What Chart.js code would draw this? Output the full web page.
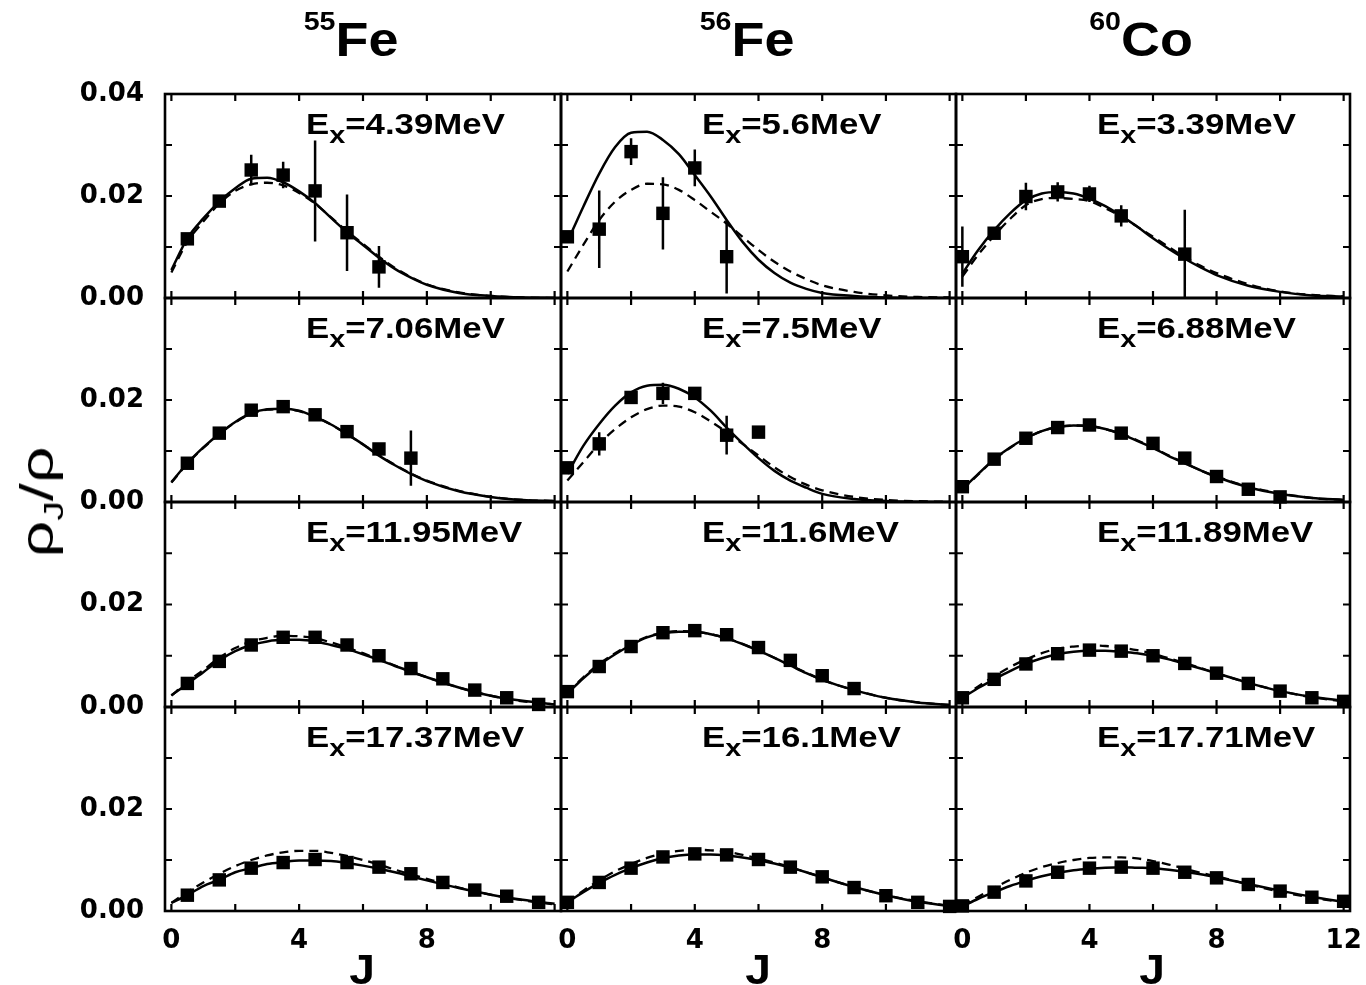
<!DOCTYPE html>
<html>
<head>
<meta charset="utf-8">
<script src="https://cdn.jsdelivr.net/npm/chart.js@4.4.1/dist/chart.umd.min.js"></script>
<style>
  body { margin: 0; background: #fff; width: 1366px; height: 985px; position: relative; overflow: hidden; font-family: "Liberation Sans", Arial, sans-serif; }
  canvas { position: absolute; left: 0; top: 0; }
  .title { position: absolute; top: 15px; font: bold 49px/1 "Liberation Sans", Arial, sans-serif; transform: translateX(-50%) scaleX(1.1); white-space: nowrap; z-index: 5; }
  .title .sup { font-size: 26px; position: relative; top: -26px; }
  .ex { position: absolute; font: bold 29px/1 "Liberation Sans", Arial, sans-serif; white-space: nowrap; transform-origin: 0 0; transform: scaleX(1.2); z-index: 5; }
  .ex .sub { font-size: 24px; position: relative; top: 9px; }
  .jlab { position: absolute; top: 949px; font: bold 42px/1 "Liberation Sans", Arial, sans-serif; transform: translateX(-50%) scaleX(1.1); z-index: 5; }
  .ylab { position: absolute; left: 37px; top: 502px; font: 46px/1 "Liberation Sans", Arial, sans-serif; transform: translate(-50%, -50%) rotate(-90deg) scaleX(1.4); white-space: nowrap; z-index: 5; }
  .ylab .sub { font-size: 28px; position: relative; top: 10px; }
</style>
</head>
<body>
<script>
// column headers and panel energies (row-major: 55Fe, 56Fe, 60Co)
const massNumbers = ['55', '56', '60'];
const elements = ['Fe', 'Fe', 'Co'];
const excitation = ['4.39', '5.6', '3.39', '7.06', '7.5', '6.88', '11.95', '11.6', '11.89', '17.37', '16.1', '17.71'];

// all values below are in units of 1e-3
const curveJ = [0, 0.5, 1, 1.5, 2, 2.5, 3, 3.5, 4, 4.5, 5, 5.5, 6, 6.5, 7, 7.5, 8, 9, 10, 11, 12];

const solidY = [
  [5.5, 11.7, 15.6, 18.9, 21.5, 23.4, 23.6, 22.7, 20.9, 18.6, 15.7, 12.9, 10.4, 7.9, 5.7, 4.0, 2.6, 1.0, 0.4, 0.1, 0.0],
  [11.0, 17.9, 24.4, 29.6, 32.4, 32.6, 31.0, 28.2, 24.1, 19.9, 15.3, 11.0, 7.5, 4.9, 3.0, 1.8, 1.0, 0.4, 0.1, 0.0, 0.0],
  [4.8, 9.4, 13.3, 16.6, 19.2, 20.5, 20.8, 20.5, 19.5, 18.0, 16.1, 14.0, 11.7, 9.6, 7.7, 6.0, 4.5, 2.4, 1.2, 0.5, 0.3],
  [3.9, 7.6, 10.7, 13.4, 15.7, 17.4, 18.2, 18.3, 17.9, 16.7, 15.2, 13.3, 11.3, 9.1, 7.2, 5.5, 4.1, 2.1, 1.0, 0.4, 0.2],
  [5.5, 11.0, 15.3, 18.9, 21.5, 22.8, 23.0, 22.2, 20.5, 17.9, 14.6, 11.5, 8.6, 6.1, 4.2, 2.8, 1.6, 0.6, 0.2, 0.05, 0.0],
  [2.5, 5.5, 8.4, 10.7, 12.5, 13.9, 14.7, 15.0, 14.9, 14.3, 13.3, 12.0, 10.6, 9.0, 7.6, 6.2, 4.9, 2.9, 1.6, 0.8, 0.4],
  [2.3, 4.5, 6.8, 9.1, 10.9, 12.1, 12.8, 13.1, 13.1, 12.8, 12.1, 11.3, 10.3, 9.2, 8.0, 6.9, 5.8, 3.8, 2.2, 1.2, 0.5],
  [2.6, 5.6, 8.2, 10.3, 12.1, 13.6, 14.4, 14.7, 14.7, 14.2, 13.4, 12.3, 11.0, 9.6, 8.1, 6.6, 5.3, 3.3, 1.8, 0.9, 0.4],
  [1.8, 3.7, 5.4, 7.0, 8.4, 9.5, 10.3, 10.8, 11.0, 11.0, 10.8, 10.5, 10.0, 9.3, 8.4, 7.5, 6.6, 4.7, 3.1, 2.0, 1.2],
  [1.6, 3.1, 4.9, 6.1, 7.6, 8.4, 9.2, 9.6, 9.9, 9.9, 9.8, 9.4, 8.9, 8.3, 7.6, 6.8, 6.0, 4.5, 3.2, 2.2, 1.4],
  [1.7, 3.7, 5.5, 7.1, 8.4, 9.5, 10.4, 10.9, 11.1, 11.1, 10.9, 10.5, 10.0, 9.3, 8.5, 7.6, 6.6, 4.7, 3.1, 1.8, 1.0],
  [0.9, 2.4, 3.7, 4.9, 5.9, 6.8, 7.5, 8.0, 8.3, 8.5, 8.6, 8.5, 8.4, 8.1, 7.7, 7.2, 6.6, 5.3, 4.0, 2.8, 1.8]
];

const dashedY = [
  [5.0, 11.0, 15.0, 18.5, 21.0, 22.3, 22.6, 22.1, 20.6, 18.5, 15.8, 13.1, 10.6, 8.1, 5.9, 4.1, 2.7, 1.1, 0.4, 0.1, 0.0],
  [5.2, 10.4, 15.3, 18.9, 21.2, 22.4, 22.3, 21.2, 19.2, 16.9, 14.6, 12.0, 9.4, 7.1, 5.2, 3.7, 2.5, 1.2, 0.5, 0.2, 0.1],
  [4.2, 8.5, 12.2, 15.5, 18.2, 19.4, 19.6, 19.4, 19.0, 17.6, 16.0, 14.0, 12.0, 10.0, 8.0, 6.3, 4.9, 2.7, 1.3, 0.6, 0.3],
  [3.8, 7.5, 10.6, 13.3, 15.6, 17.3, 18.1, 18.2, 17.8, 16.7, 15.2, 13.3, 11.3, 9.2, 7.3, 5.6, 4.2, 2.2, 1.0, 0.4, 0.2],
  [4.2, 7.8, 11.4, 14.3, 16.6, 18.2, 18.9, 18.7, 17.6, 15.8, 13.7, 11.4, 9.1, 6.8, 4.9, 3.4, 2.3, 1.0, 0.4, 0.15, 0.05],
  [2.4, 5.4, 8.3, 10.6, 12.5, 13.9, 14.7, 15.0, 14.9, 14.3, 13.4, 12.1, 10.7, 9.1, 7.6, 6.2, 5.0, 3.0, 1.7, 0.8, 0.4],
  [2.2, 4.9, 7.2, 9.6, 11.5, 12.8, 13.5, 13.9, 13.8, 13.4, 12.6, 11.6, 10.5, 9.3, 8.1, 6.9, 5.8, 3.8, 2.2, 1.1, 0.5],
  [2.7, 5.8, 8.4, 10.5, 12.3, 13.7, 14.5, 14.8, 14.7, 14.2, 13.4, 12.3, 11.0, 9.6, 8.1, 6.7, 5.3, 3.3, 1.8, 0.9, 0.4],
  [1.9, 4.0, 6.0, 7.8, 9.3, 10.5, 11.4, 11.8, 12.0, 11.9, 11.6, 11.1, 10.4, 9.5, 8.6, 7.6, 6.6, 4.7, 3.1, 1.9, 1.1],
  [1.6, 3.7, 5.6, 7.3, 8.8, 10.0, 10.9, 11.5, 11.8, 11.8, 11.4, 10.8, 10.0, 9.1, 8.1, 7.2, 6.3, 4.6, 3.2, 2.1, 1.3],
  [1.8, 4.0, 6.0, 7.8, 9.2, 10.4, 11.3, 11.8, 12.0, 11.9, 11.6, 11.0, 10.3, 9.5, 8.6, 7.6, 6.6, 4.7, 3.1, 1.9, 1.0],
  [1.0, 2.8, 4.5, 6.1, 7.5, 8.6, 9.4, 10.0, 10.4, 10.5, 10.5, 10.3, 9.8, 9.1, 8.3, 7.5, 6.8, 5.2, 3.8, 2.6, 1.7]
];

const expJ = [
  [0.5, 1.5, 2.5, 3.5, 4.5, 5.5, 6.5],
  [0, 1, 2, 3, 4, 5],
  [0, 1, 2, 3, 4, 5, 7],
  [0.5, 1.5, 2.5, 3.5, 4.5, 5.5, 6.5, 7.5],
  [0, 1, 2, 3, 4, 5, 6],
  [0, 1, 2, 3, 4, 5, 6, 7, 8, 9, 10],
  [0.5, 1.5, 2.5, 3.5, 4.5, 5.5, 6.5, 7.5, 8.5, 9.5, 10.5, 11.5],
  [0, 1, 2, 3, 4, 5, 6, 7, 8, 9],
  [0, 1, 2, 3, 4, 5, 6, 7, 8, 9, 10, 11, 12],
  [0.5, 1.5, 2.5, 3.5, 4.5, 5.5, 6.5, 7.5, 8.5, 9.5, 10.5, 11.5],
  [0, 1, 2, 3, 4, 5, 6, 7, 8, 9, 10, 11, 12],
  [0, 1, 2, 3, 4, 5, 6, 7, 8, 9, 10, 11, 12]
];

const expY = [
  [11.6, 19.0, 25.1, 24.1, 21.0, 12.8, 6.1],
  [12.0, 13.5, 28.7, 16.6, 25.5, 8.1],
  [8.1, 12.7, 19.9, 20.8, 20.4, 16.1, 8.6],
  [7.6, 13.5, 18.0, 18.7, 17.1, 13.8, 10.4, 8.6],
  [6.7, 11.4, 20.5, 21.3, 21.3, 13.1, 13.7],
  [3.0, 8.4, 12.5, 14.6, 15.1, 13.5, 11.5, 8.6, 5.0, 2.5, 1.0],
  [4.6, 8.9, 12.1, 13.6, 13.6, 12.1, 10.0, 7.5, 5.5, 3.3, 1.8, 0.5],
  [3.0, 7.9, 11.8, 14.5, 14.9, 14.1, 11.6, 9.1, 6.1, 3.6],
  [1.8, 5.4, 8.4, 10.4, 11.1, 10.9, 10.0, 8.5, 6.6, 4.6, 3.1, 1.8, 1.1],
  [3.1, 6.1, 8.4, 9.5, 10.1, 9.5, 8.6, 7.3, 5.6, 4.1, 2.9, 1.7],
  [1.7, 5.6, 8.4, 10.6, 11.2, 11.0, 10.1, 8.6, 6.7, 4.6, 3.0, 1.7, 0.9],
  [1.0, 3.7, 5.9, 7.6, 8.4, 8.6, 8.4, 7.6, 6.5, 5.2, 3.9, 2.7, 1.9]
];

const expErr = [
  [0.8, 0.8, 3.0, 2.6, 9.9, 7.5, 4.1],
  [0.8, 7.6, 2.6, 7.1, 3.6, 7.2],
  [5.9, 1.0, 2.7, 1.9, 1.6, 2.1, 8.7],
  [0.3, 0.4, 0.4, 0.6, 0.4, 0.4, 0.7, 5.4],
  [0.6, 2.3, 0.6, 2.1, 1.0, 3.8, 0.8],
  [0.3, 0.3, 0.3, 0.3, 0.3, 0.3, 0.3, 0.3, 0.7, 1.0, 0.3],
  [0.2, 0.2, 0.2, 0.2, 0.2, 0.2, 0.2, 0.2, 0.2, 0.2, 0.2, 0.2],
  [0.2, 0.2, 0.2, 0.2, 0.2, 0.2, 0.2, 0.2, 0.2, 0.2],
  [0.2, 0.2, 0.2, 0.2, 0.2, 0.2, 0.2, 0.2, 0.2, 0.2, 0.2, 0.2, 0.2],
  [0.2, 0.2, 0.2, 0.2, 0.2, 0.2, 0.2, 0.2, 0.2, 0.2, 0.2, 0.2],
  [0.2, 0.2, 0.2, 0.2, 0.2, 0.2, 0.2, 0.2, 0.2, 0.2, 0.2, 0.2, 0.2],
  [0.2, 0.2, 0.2, 0.2, 0.2, 0.2, 0.2, 0.2, 0.2, 0.2, 0.2, 0.2, 0.2]
];

// axis ticks
const xMajor = [0, 2, 4, 6, 8, 10, 12];
const yMajor = [0, 0.01, 0.02, 0.03, 0.04];
const xLabelsShort = [0, 4, 8];
const xLabelsLast = [0, 4, 8, 12];
const yLabelsTop = [0, 0.02, 0.04];
const yLabelsRest = [0, 0.02];

// page geometry of the 3x4 grid of panels
const colEdges = [165, 561, 956, 1350];
const rowEdges = [94, 298, 502, 707, 911];
const W = 1366, H = 985;
const yAxisWidth = 120, xAxisHeight = 60;
const tickFont = { family: '"DejaVu Sans", "Liberation Sans", sans-serif', size: 26, weight: 'bold' };

const perMille = v => v / 1000;

// frame and inward tick marks on all four sides
const frame = {
  id: 'frame',
  afterDraw(chart) {
    const { ctx, chartArea: a, scales: { x, y } } = chart;
    ctx.save();
    ctx.strokeStyle = '#000';
    ctx.lineWidth = 2.6;
    ctx.strokeRect(a.left, a.top, a.right - a.left, a.bottom - a.top);
    ctx.lineWidth = 2.2;
    ctx.beginPath();
    xMajor.forEach(v => {
      const px = x.getPixelForValue(v);
      ctx.moveTo(px, a.bottom); ctx.lineTo(px, a.bottom - 7);
      ctx.moveTo(px, a.top); ctx.lineTo(px, a.top + 7);
    });
    yMajor.forEach(v => {
      const py = y.getPixelForValue(v);
      ctx.moveTo(a.left, py); ctx.lineTo(a.left + 7, py);
      ctx.moveTo(a.right, py); ctx.lineTo(a.right - 7, py);
    });
    ctx.stroke();
    ctx.restore();
  }
};

const errorBars = {
  id: 'errorBars',
  afterDatasetsDraw(chart) {
    const { ctx, scales: { x, y } } = chart;
    const ds = chart.data.datasets[2];
    ctx.save();
    ctx.strokeStyle = '#000';
    ctx.lineWidth = 2.5;
    ctx.beginPath();
    ds.data.forEach(p => {
      const px = x.getPixelForValue(p.x);
      ctx.moveTo(px, y.getPixelForValue(Math.max(0, p.y - p.err)));
      ctx.lineTo(px, y.getPixelForValue(p.y + p.err));
    });
    ctx.stroke();
    ctx.restore();
  }
};

function addText(cls, html, left, top) {
  const d = document.createElement('div');
  d.className = cls;
  d.innerHTML = html;
  d.style.left = left + 'px';
  if (top !== undefined) d.style.top = top + 'px';
  document.body.appendChild(d);
}

for (let r = 0; r < 4; r++) {
  for (let c = 0; c < 3; c++) {
    const k = r * 3 + c;
    const isLeft = c === 0, isBottom = r === 3;
    const canvas = document.createElement('canvas');
    canvas.width = W; canvas.height = H;
    document.body.appendChild(canvas);

    new Chart(canvas, {
      type: 'scatter',
      data: {
        datasets: [
          {
            type: 'line',
            data: curveJ.map((j, i) => ({ x: j, y: perMille(solidY[k][i]) })),
            borderColor: '#000', borderWidth: 2.5, pointRadius: 0,
            cubicInterpolationMode: 'monotone', fill: false
          },
          {
            type: 'line',
            data: curveJ.map((j, i) => ({ x: j, y: perMille(dashedY[k][i]) })),
            borderColor: '#000', borderWidth: 2.3, borderDash: [9, 6], pointRadius: 0,
            cubicInterpolationMode: 'monotone', fill: false
          },
          {
            data: expJ[k].map((j, i) => ({ x: j, y: perMille(expY[k][i]), err: perMille(expErr[k][i]) })),
            pointStyle: 'rect', pointRadius: 9.5, pointHoverRadius: 9.5,
            backgroundColor: '#000', borderColor: '#000', borderWidth: 0, clip: false
          }
        ]
      },
      options: {
        responsive: false, animation: false, devicePixelRatio: 1,
        events: [],
        layout: {
          padding: {
            left: colEdges[c] - (isLeft ? yAxisWidth : 0),
            right: W - colEdges[c + 1],
            top: rowEdges[r],
            bottom: H - rowEdges[r + 1] - (isBottom ? xAxisHeight : 0)
          }
        },
        plugins: { legend: { display: false }, tooltip: { enabled: false } },
        scales: {
          x: {
            type: 'linear', min: -0.2, max: 12.2, display: isBottom,
            grid: { display: false, drawTicks: false, tickLength: 0 },
            border: { display: false },
            ticks: { color: '#000', font: tickFont, padding: 15, maxRotation: 0 },
            afterBuildTicks: s => { s.ticks = (c === 2 ? xLabelsLast : xLabelsShort).map(v => ({ value: v })); },
            afterFit: s => {
              s.height = isBottom ? xAxisHeight : 0;
              s.paddingLeft = 0; s.paddingRight = 0;
            }
          },
          y: {
            type: 'linear', min: 0, max: 0.04, display: isLeft,
            grid: { display: false, drawTicks: false, tickLength: 0 },
            border: { display: false },
            ticks: { color: '#000', font: tickFont, padding: 21, callback: v => v.toFixed(2) },
            afterBuildTicks: s => { s.ticks = (r === 0 ? yLabelsTop : yLabelsRest).map(v => ({ value: v })); },
            afterFit: s => {
              s.width = isLeft ? yAxisWidth : 0;
              s.paddingTop = 0; s.paddingBottom = 0;
            }
          }
        }
      },
      plugins: [errorBars, frame]
    });

    addText('ex', 'E<span class="sub">x</span>=' + excitation[k] + 'MeV', colEdges[c] + 141, rowEdges[r] + 16);
  }
}

for (let c = 0; c < 3; c++) {
  const mid = (colEdges[c] + colEdges[c + 1]) / 2;
  addText('title', '<span class="sup">' + massNumbers[c] + '</span>' + elements[c], mid - 12);
  addText('jlab', 'J', mid - 1);
}
addText('ylab', 'ρ<span class="sub">J</span>/ρ', 37, 502);
</script>
</body>
</html>
